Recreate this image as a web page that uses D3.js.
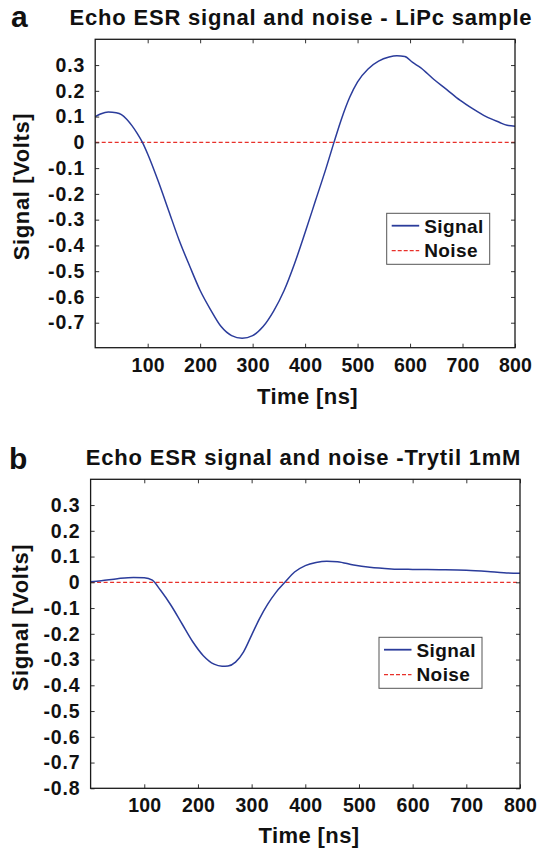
<!DOCTYPE html>
<html>
<head>
<meta charset="utf-8">
<script src="https://cdn.jsdelivr.net/npm/d3@7"></script>
<style>
  body { margin: 0; background: #fff; }
  text { font-family: "Liberation Sans", Arial, Helvetica, sans-serif; font-weight: bold; fill: #111; }
</style>
</head>
<body>
<svg width="544" height="848"></svg>
<script>
// ---- data ----
var timeA   = [0, 10, 25, 40, 50, 60, 70, 80, 90, 100, 120, 140, 160, 180, 200, 220, 240, 260, 280, 300,
               320, 340, 360, 380, 400, 420, 440, 455, 470, 485, 500, 520, 540, 560, 575, 590, 605, 620,
               645, 670, 695, 720, 745, 770, 785, 800];
var signalA = [0.10, 0.11, 0.118, 0.115, 0.108, 0.09, 0.065, 0.035, 0.0, -0.045, -0.15, -0.265, -0.38, -0.48,
               -0.575, -0.65, -0.715, -0.75, -0.76, -0.75, -0.715, -0.655, -0.575, -0.47, -0.35, -0.225, -0.1,
               0.0, 0.095, 0.175, 0.235, 0.285, 0.315, 0.331, 0.336, 0.333, 0.31, 0.29, 0.245, 0.205, 0.164,
               0.13, 0.1, 0.078, 0.066, 0.063];

var timeB   = [0, 20, 50, 80, 100, 115, 130, 150, 170, 190, 210, 230, 245, 256, 270, 285, 300, 315, 330,
               345, 362, 380, 400, 420, 440, 460, 490, 520, 560, 600, 650, 700, 740, 770, 800];
var signalB = [0.002, 0.006, 0.014, 0.019, 0.018, 0.008, -0.03, -0.09, -0.16, -0.23, -0.285, -0.318, -0.326,
               -0.325, -0.31, -0.27, -0.205, -0.14, -0.085, -0.04, 0.0, 0.04, 0.065, 0.077, 0.082, 0.08, 0.067,
               0.058, 0.052, 0.05, 0.049, 0.047, 0.042, 0.037, 0.035];

var noiseTime = [0, 200, 400, 600, 800];
var noiseA = [0, 0, 0, 0, 0];
var noiseB = [0, 0, 0, 0, 0];

var xTicks  = [100, 200, 300, 400, 500, 600, 700, 800];
var yTicksA = [0.3, 0.2, 0.1, 0, -0.1, -0.2, -0.3, -0.4, -0.5, -0.6, -0.7];
var yTicksB = [0.3, 0.2, 0.1, 0, -0.1, -0.2, -0.3, -0.4, -0.5, -0.6, -0.7, -0.8];

var legendNames = ["Signal", "Noise"];
var signalColor = "#2b3c9b", noiseColor = "#e8302a";

var svg = d3.select("svg");

/* one panel = box, ticks, curves, titles and a legend */
function drawPanel(p) {
  var x = d3.scaleLinear().domain([0, 800]).range([p.left, p.right]),
      y = d3.scaleLinear().domain(p.yDomain).range([p.bottom, p.top]);
  var g = svg.append("g");

  // curves first so the box sits on top
  var line = d3.line().x(function(d) { return x(d[0]); }).y(function(d) { return y(d[1]); });
  g.append("path")
      .datum(d3.zip(noiseTime, p.noise))
      .attr("fill", "none").attr("stroke", noiseColor).attr("stroke-width", 1.3)
      .attr("stroke-dasharray", "4,2.5")
      .attr("d", line);
  g.append("path")
      .datum(d3.zip(p.time, p.signal))
      .attr("fill", "none").attr("stroke", signalColor).attr("stroke-width", 1.5)
      .attr("d", line.curve(d3.curveMonotoneX));

  // axes, ticks pointing inwards like matlab
  var fmt = function(d) { return String(d); };
  g.append("g").attr("class", "axis xa")
      .attr("transform", "translate(0," + p.bottom + ")")
      .call(d3.axisBottom(x).tickValues(xTicks).tickSizeInner(-4).tickSizeOuter(0).tickPadding(10).tickFormat(fmt));
  g.append("g").attr("class", "axis")
      .attr("transform", "translate(0," + p.top + ")")
      .call(d3.axisTop(x).tickValues(xTicks).tickSizeInner(-4).tickSizeOuter(0).tickFormat(""));
  g.append("g").attr("class", "axis ya")
      .attr("transform", "translate(" + p.left + ",0)")
      .call(d3.axisLeft(y).tickValues(p.yTicks).tickSizeInner(-4).tickSizeOuter(0).tickPadding(10).tickFormat(fmt));
  g.append("g").attr("class", "axis")
      .attr("transform", "translate(" + p.right + ",0)")
      .call(d3.axisRight(y).tickValues(p.yTicks).tickSizeInner(-4).tickSizeOuter(0).tickFormat(""));

  g.selectAll(".axis path").remove();
  g.selectAll(".axis line").attr("stroke", "#333");
  g.selectAll(".axis text")
      .attr("font-family", null).attr("font-size", null)
      .style("font-size", "19.5px").attr("fill", "#111");
  g.selectAll(".xa text").style("letter-spacing", "0.2px");
  g.selectAll(".ya text").style("letter-spacing", "0.9px");

  // the box
  g.append("rect")
      .attr("x", p.left).attr("y", p.top)
      .attr("width", p.right - p.left).attr("height", p.bottom - p.top)
      .attr("fill", "none").attr("stroke", "#1a1a1a").attr("stroke-width", 1.3);

  // labels
  g.append("text").attr("x", p.letterX).attr("y", p.letterY)
      .style("font-size", "30px").text(p.letter);
  g.append("text").attr("x", p.titleX).attr("y", p.titleY)
      .attr("text-anchor", "middle").style("font-size", "22px").style("letter-spacing", "0.8px")
      .text(p.title);
  g.append("text").attr("x", p.xLabelX).attr("y", p.xLabelY)
      .attr("text-anchor", "middle").style("font-size", "22px").style("letter-spacing", "0.4px")
      .text("Time [ns]");
  g.append("text")
      .attr("transform", "translate(" + p.yLabelX + "," + p.yLabelY + ") rotate(-90)")
      .attr("text-anchor", "middle").style("font-size", "22px").style("letter-spacing", "0.6px")
      .text("Signal [Volts]");

  // legend
  var lg = g.append("g").attr("transform", "translate(" + p.legX + "," + p.legY + ")");
  lg.append("rect").attr("width", 103).attr("height", 51)
      .attr("fill", "#fff").attr("stroke", "#555").attr("stroke-width", 1);
  lg.selectAll(".key").data(legendNames).enter().append("line")
      .attr("x1", 5).attr("x2", 32.5)
      .attr("y1", function(d, i) { return 12.4 + i * 25; })
      .attr("y2", function(d, i) { return 12.4 + i * 25; })
      .attr("stroke", function(d, i) { return i ? noiseColor : signalColor; })
      .attr("stroke-width", function(d, i) { return i ? 1.3 : 1.8; })
      .attr("stroke-dasharray", function(d, i) { return i ? "4,2" : null; });
  lg.selectAll(".name").data(legendNames).enter().append("text")
      .attr("x", 37.5)
      .attr("y", function(d, i) { return 19.5 + i * 24; })
      .style("font-size", "19px").style("letter-spacing", "0.4px")
      .text(function(d) { return d; });
}

drawPanel({
  letter: "a", letterX: 11, letterY: 27,
  title: "Echo ESR signal and noise - LiPc sample", titleX: 301, titleY: 25,
  left: 95.2, right: 515, top: 39.3, bottom: 347.7, yDomain: [-0.797, 0.4], yTicks: yTicksA,
  time: timeA, signal: signalA, noise: noiseA,
  xLabelX: 307.5, xLabelY: 404, yLabelX: 29, yLabelY: 186.5,
  legX: 386.7, legY: 213.3
});

drawPanel({
  letter: "b", letterX: 9, letterY: 469,
  title: "Echo ESR signal and noise -Trytil 1mM", titleX: 303.5, titleY: 465,
  left: 90.6, right: 520, top: 479.3, bottom: 788.3, yDomain: [-0.8, 0.4], yTicks: yTicksB,
  time: timeB, signal: signalB, noise: noiseB,
  xLabelX: 309, xLabelY: 843, yLabelX: 28, yLabelY: 617.5,
  legX: 379, legY: 637.3
});
</script>
</body>
</html>
